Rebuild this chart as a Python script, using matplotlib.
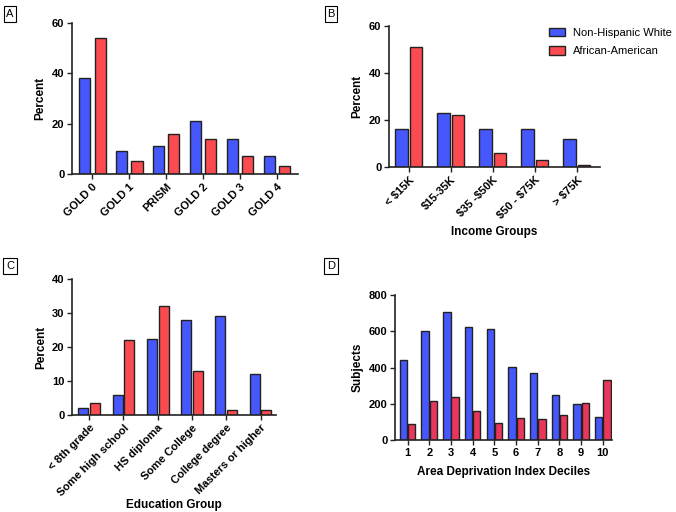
import matplotlib
matplotlib.use("Agg")
import matplotlib.pyplot as plt
import numpy as np
from matplotlib.patches import Patch

plt.rcParams['font.family'] = ['Liberation Sans', 'DejaVu Sans']
plt.rcParams['font.size'] = 8
plt.rcParams['text.parse_math'] = False  # $をそのまま表示

# データ
gold_cats = ['GOLD 0', 'GOLD 1', 'PRISM', 'GOLD 2', 'GOLD 3', 'GOLD 4']
gold_nhw = [38, 9, 11, 21, 14, 7]
gold_aa = [54, 5, 16, 14, 7, 3]

income_cats = ['< $15K', '$15-35K', '$35 -$50K', '$50 - $75K', '> $75K']
income_nhw = [16, 23, 16, 16, 12]
income_aa = [51, 22, 6, 3, 1]

edu_cats = ['< 8th grade', 'Some high school', 'HS diploma', 'Some College',
            'College degree', 'Masters or higher']
edu_nhw = [2, 6, 22.5, 28, 29, 12]
edu_aa = [3.5, 22, 32, 13, 1.5, 1.5]

adi_cats = ['1', '2', '3', '4', '5', '6', '7', '8', '9', '10']
adi_nhw = [442, 599, 708, 622, 612, 405, 367, 251, 197, 125]
adi_aa = [87, 214, 238, 162, 96, 123, 116, 136, 205, 332]

BLUE = '#4657FB'
RED = '#FB4A50'
RED_D = '#E8375B'

W, H = 676, 512
fig = plt.figure(figsize=(W / 100, H / 100), dpi=100)


def px_axes(x0, x1, ytop, ybot):
    return fig.add_axes([x0 / W, 1 - ybot / H, (x1 - x0) / W, (ybot - ytop) / H])


def draw(ax, cats, nhw, aa, width, off, xlim, ylim, yticks, red, rot=True):
    x = np.arange(len(cats))
    ax.bar(x - off, nhw, width, color=BLUE, edgecolor='#222222', linewidth=1.0)
    ax.bar(x + off, aa, width, color=red, edgecolor='#222222', linewidth=1.0)
    ax.set_xlim(*xlim)
    ax.set_ylim(*ylim)
    ax.set_yticks(yticks)
    ax.set_xticks(x)
    if rot:
        ax.set_xticklabels(cats, rotation=45, ha='right', rotation_mode='anchor',
                           fontweight='bold')
    else:
        ax.set_xticklabels(cats, fontweight='bold')
    for lab in ax.get_yticklabels():
        lab.set_fontweight('bold')
    for s in ['top', 'right']:
        ax.spines[s].set_visible(False)
    for s in ['left', 'bottom']:
        ax.spines[s].set_linewidth(1.2)
        ax.spines[s].set_color('#222222')
    ax.tick_params(direction='out', length=3.5, width=1.0, colors='#222222',
                   labelcolor='black', pad=2)


# A
axA = px_axes(72, 298, 23, 174)
draw(axA, gold_cats, gold_nhw, gold_aa, 0.3, 0.21, (-0.55, 5.57), (0, 60),
     [0, 20, 40, 60], RED)
axA.set_ylabel('Percent', fontweight='bold', fontsize=8.5)
axA.yaxis.set_label_coords(-0.115, 0.5)

# B
axB = px_axes(389, 600, 26, 167)
draw(axB, income_cats, income_nhw, income_aa, 0.3, 0.17, (-0.47, 4.55), (0, 60),
     [0, 20, 40, 60], RED)
axB.set_ylabel('Percent', fontweight='bold', fontsize=8.5)
axB.yaxis.set_label_coords(-0.12, 0.5)
axB.set_xlabel('Income Groups', fontweight='bold', fontsize=8.5)
axB.xaxis.set_label_coords(0.5, -0.42)

# C
axC = px_axes(72, 276, 279, 415)
draw(axC, edu_cats, edu_nhw, edu_aa, 0.29, 0.17, (-0.5, 5.45), (0, 40),
     [0, 10, 20, 30, 40], RED)
axC.set_ylabel('Percent', fontweight='bold', fontsize=8.5)
axC.yaxis.set_label_coords(-0.12, 0.5)
axC.set_xlabel('Education Group', fontweight='bold', fontsize=8.5)
axC.xaxis.set_label_coords(0.5, -0.62)

# D
axD = px_axes(395, 612, 295, 440)
draw(axD, adi_cats, adi_nhw, adi_aa, 0.34, 0.19, (-0.58, 9.42), (0, 800),
     [0, 200, 400, 600, 800], RED_D, rot=False)
axD.set_ylabel('Subjects', fontweight='bold', fontsize=8.5)
axD.yaxis.set_label_coords(-0.145, 0.5)
axD.set_xlabel('Area Deprivation Index Deciles', fontweight='bold', fontsize=8.5)
axD.xaxis.set_label_coords(0.5, -0.18)

# パネル記号
for lbl, (px, py) in zip('ABCD', [(10, 14), (331, 14), (10, 266), (331, 266)]):
    fig.text(px / W, 1 - py / H, lbl, ha='center', va='center', fontsize=8,
             bbox=dict(boxstyle='square,pad=0.25', fc='white', ec='black', lw=0.8))

handles = [Patch(facecolor=BLUE, edgecolor='#222222', linewidth=1.0),
           Patch(facecolor=RED, edgecolor='#222222', linewidth=1.0)]
fig.legend(handles, ['Non-Hispanic White', 'African-American'],
           loc='upper left', bbox_to_anchor=(549 / W, 1 - 28 / H), frameon=False,
           fontsize=8, handlelength=1.45, handleheight=0.75, handletextpad=0.7,
           labelspacing=0.75, borderpad=0, borderaxespad=0)

fig.savefig('out.png', dpi=100)
